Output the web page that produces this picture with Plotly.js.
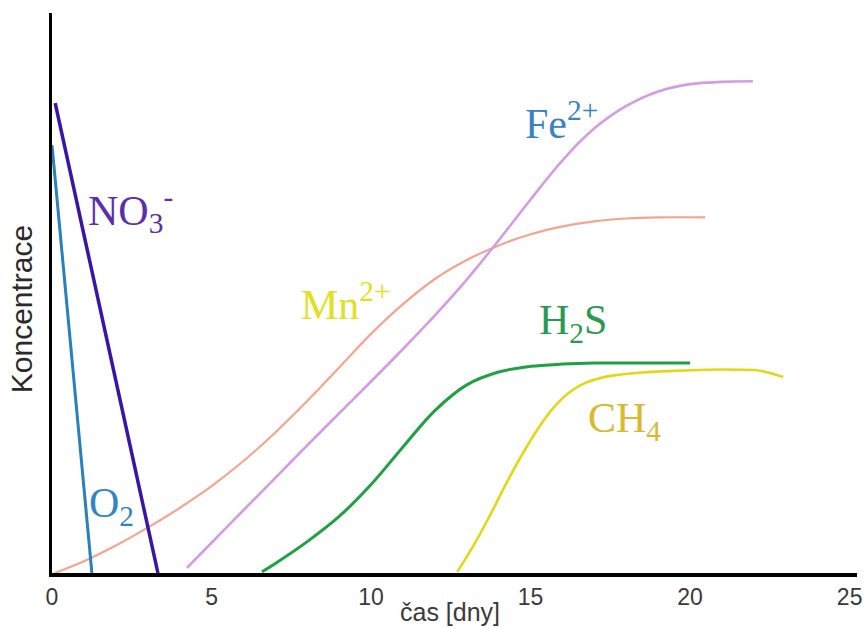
<!DOCTYPE html>
<html>
<head>
<meta charset="utf-8">
<script src="https://cdn.plot.ly/plotly-3.0.1.min.js"></script>
<style>html,body{margin:0;padding:0;background:#fff;}#chart{width:866px;height:628px;}</style>
</head>
<body>
<div id="chart"></div>
<script>
// Data (x = days, y = relative concentration 0-100)
const o2X = [0, 1.25];
const o2Y = [76.4, 0];
const no3X = [0.1, 3.32];
const no3Y = [83.9, 0];
const mnX = [0.09, 1, 2, 3, 4, 5, 6, 7, 8, 9, 10, 11, 12, 13, 14, 15, 16, 17, 18, 19, 20.47];
const mnY = [0, 2.1, 4.9, 8.1, 11.6, 15.5, 20.0, 25.1, 30.7, 36.7, 42.7, 48.0, 52.5, 55.9, 58.5, 60.5, 61.9, 62.8, 63.3, 63.5, 63.5];
const feX = [4.23, 5, 6, 7, 8, 9, 10, 11, 12, 13, 14, 15, 16, 17, 18, 19, 20, 21, 21.97];
const feY = [0.9, 5.4, 11.2, 17.0, 22.8, 28.5, 34.2, 40.0, 46.0, 52.4, 59.4, 66.7, 73.7, 79.4, 83.4, 86.0, 87.3, 87.7, 87.8];
const h2sX = [6.58, 7, 8, 9, 10, 11, 12, 13, 14, 15, 16, 17, 18, 20];
const h2sY = [0.2, 1.7, 5.6, 10.1, 15.8, 22.5, 29.0, 33.6, 35.9, 36.9, 37.3, 37.5, 37.5, 37.5];
const ch4X = [12.7, 13.2, 13.7, 14.2, 14.7, 15.2, 15.7, 16.2, 16.7, 17.5, 18.5, 19.5, 20.5, 21.5, 22.2, 22.92];
const ch4Y = [0.2, 4.8, 10.0, 15.6, 20.8, 25.5, 29.4, 32.2, 33.9, 35.2, 35.8, 36.1, 36.3, 36.3, 36.1, 35.0];
const tickVals = [0, 5, 10, 15, 20, 25];
const tickText = ['0', '5', '10', '15', '20', '25'];
const xTitle = 'čas [dny]';
const yTitle = 'Koncentrace';

const traces = [
  {x: mnX, y: mnY, mode: 'lines', line: {color: '#f4a592', width: 2.2, shape: 'spline', smoothing: 1}},
  {x: feX, y: feY, mode: 'lines', line: {color: '#d49ce2', width: 2.6, shape: 'spline', smoothing: 1}},
  {x: h2sX, y: h2sY, mode: 'lines', line: {color: '#1fa043', width: 3, shape: 'spline', smoothing: 1}},
  {x: ch4X, y: ch4Y, mode: 'lines', line: {color: '#e2d817', width: 2.6, shape: 'spline', smoothing: 1}},
  {x: o2X, y: o2Y, mode: 'lines', line: {color: '#2a80bb', width: 3}},
  {x: no3X, y: no3Y, mode: 'lines', line: {color: '#3a14a6', width: 3.5}}
];

const serif = 'Liberation Serif, Times New Roman, serif';
const sans = 'Liberation Sans, Arial, sans-serif';
const ann = (x, y, text, color) => ({x: x, y: y, xref: 'x', yref: 'y', text: text, showarrow: false,
  xanchor: 'left', yanchor: 'middle', font: {family: serif, size: 42, color: color}});

const layout = {
  width: 866, height: 628,
  margin: {l: 52, r: 9, t: 13, b: 55},
  paper_bgcolor: '#ffffff', plot_bgcolor: '#ffffff',
  showlegend: false,
  xaxis: {
    range: [0, 25.23], showgrid: false, zeroline: false,
    showline: true, linecolor: '#000', linewidth: 4,
    tickmode: 'array', tickvals: tickVals, ticktext: tickText, ticks: '',
    tickfont: {family: sans, size: 23, color: '#3a3a3a'}
  },
  yaxis: {
    range: [0, 100], showgrid: false, zeroline: false,
    showline: true, linecolor: '#000', linewidth: 3,
    showticklabels: false, ticks: ''
  },
  annotations: [
    ann(1.07, 64.8, 'NO<sub>3</sub><sup>-</sup>', '#5a2fae'),
    ann(1.1, 12.0, 'O<sub>2</sub>', '#2f86c0'),
    ann(7.75, 48.5, 'Mn<sup>2+</sup>', '#e2e025'),
    ann(14.75, 80.8, 'Fe<sup>2+</sup>', '#3a82c2'),
    ann(15.2, 44.6, 'H<sub>2</sub>S', '#2a9a52'),
    ann(16.75, 27.2, 'CH<sub>4</sub>', '#d9b932'),
    {x: 0.494, y: 0, xref: 'paper', yref: 'paper', yshift: -39, xanchor: 'center', yanchor: 'middle',
     text: xTitle, showarrow: false, font: {family: sans, size: 25, color: '#3a3a3a'}},
    {x: 0, y: 0.471, xref: 'paper', yref: 'paper', xshift: -31, xanchor: 'center', yanchor: 'middle',
     textangle: -90, text: yTitle, showarrow: false, font: {family: sans, size: 30, color: '#2a2a2a'}}
  ]
};

Plotly.newPlot('chart', traces, layout, {displayModeBar: false, staticPlot: true});
</script>
</body>
</html>
